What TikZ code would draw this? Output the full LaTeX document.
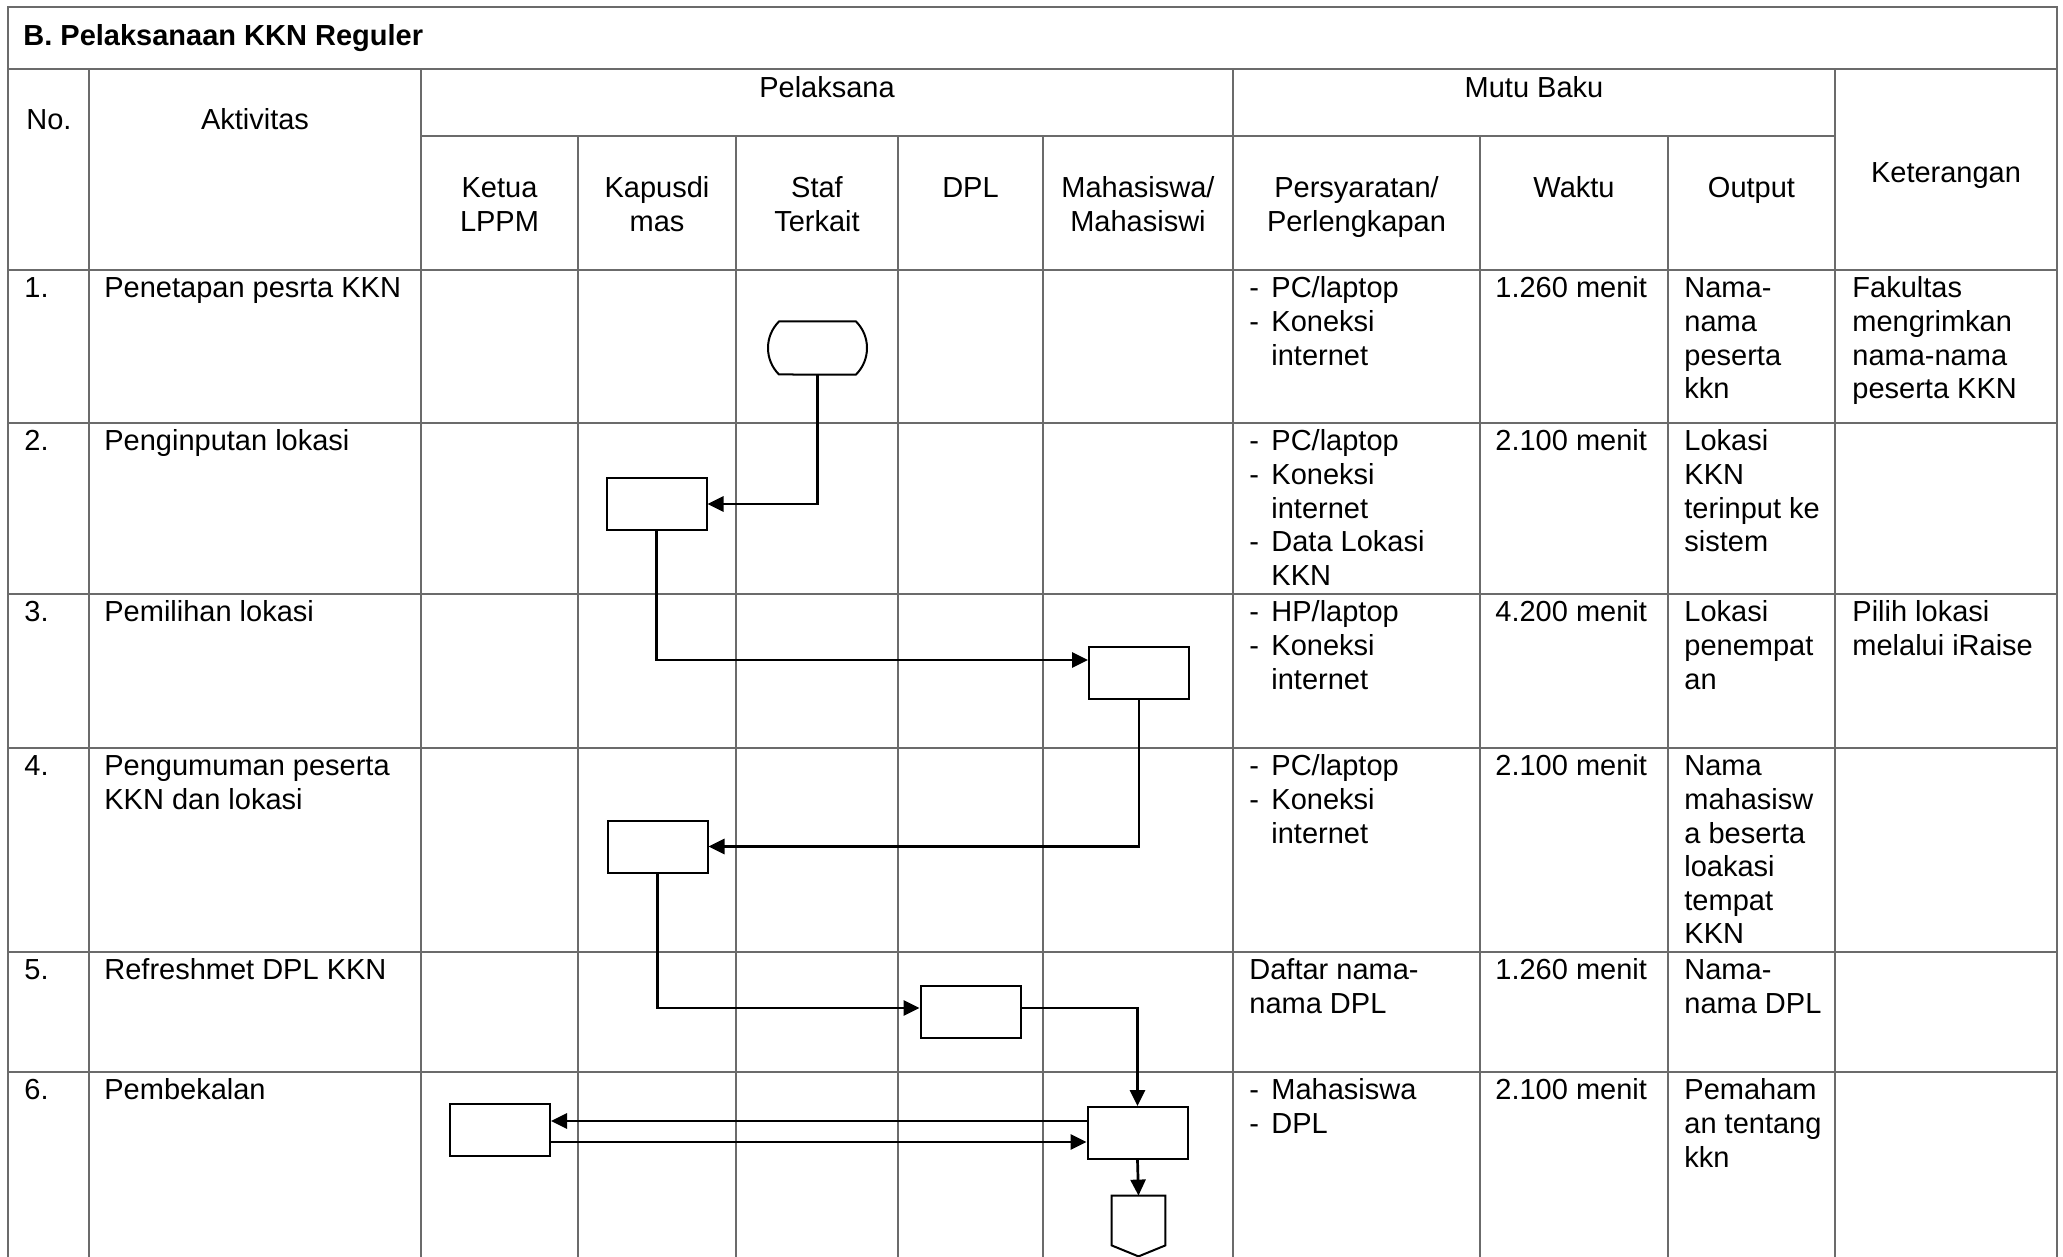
\documentclass[tikz,border=0pt]{standalone}
\usepackage{fontspec}
\setmainfont{Liberation Sans}
\usetikzlibrary{arrows.meta,shapes.misc}
\newcommand\fsz{\fontsize{14.5pt}{16.8pt}\selectfont}
\begin{document}
\begin{tikzpicture}[x=0.5pt,y=-0.5pt,
  tl/.style={line width=0.8pt, draw=black!58},
  txt/.style={anchor=north west, inner sep=0pt, align=left, font=\fsz},
  hdr/.style={anchor=north, inner sep=0pt, align=center, font=\fsz},
  flowbox/.style={draw, line width=1pt, minimum width=50pt, minimum height=26pt, inner sep=0pt, fill=white},
  flow/.style={line width=1.35pt, -{Triangle[length=8pt,width=7.5pt]}},
]
\useasboundingbox (0,0) rectangle (2063,1257);
% ---------- table grid ----------
\draw[tl] (8,1257) -- (8,7) -- (2057,7) -- (2057,1257);
\draw[tl] (8,69) -- (2057,69);
\draw[tl] (421,136) -- (1835,136);
\foreach \yy in {270,423,594,748,952,1072} \draw[tl] (8,\yy) -- (2057,\yy);
\foreach \xx in {89,421,1233,1835} \draw[tl] (\xx,69) -- (\xx,1257);
\foreach \xx in {578,736,898,1043,1480,1668} \draw[tl] (\xx,136) -- (\xx,1257);
% ---------- title & headers ----------
\node[txt, font=\fsz\bfseries] (title) at (23,21.5) {\strut B. Pelaksanaan KKN Reguler};
\node[hdr] (hNo) at (49,105.5) {\strut No.};
\node[hdr] (hAkt) at (255,105.5) {\strut Aktivitas};
\node[hdr] (hPel) at (827,73.5) {\strut Pelaksana};
\node[hdr] (hMutu) at (1534,73.5) {\strut Mutu Baku};
\node[hdr] (hKet) at (1946,158.5) {\strut Keterangan};
\node[hdr] (hKetua) at (499.5,173.5) {\strut Ketua\\LPPM};
\node[hdr] (hKap) at (657,173.5) {\strut Kapusdi\\mas};
\node[hdr] (hStaf) at (817,173.5) {\strut Staf\\Terkait};
\node[hdr] (hDPL) at (970.5,173.5) {\strut DPL};
\node[hdr] (hMhs) at (1138,173.5) {\strut Mahasiswa/\\Mahasiswi};
\node[hdr] (hPer) at (1356.5,173.5) {\strut Persyaratan/\\Perlengkapan};
\node[hdr] (hWak) at (1574,173.5) {\strut Waktu};
\node[hdr] (hOut) at (1751.5,173.5) {\strut Output};
% ---------- row 1 ----------
\node[txt] (n1) at (24,274) {\strut 1.};
\node[txt] (a1) at (104,274) {\strut Penetapan pesrta KKN};
\node[txt] (d1) at (1249,274) {\strut -\\\strut -};
\node[txt] (p1) at (1271,274) {\strut PC/laptop\\Koneksi\\internet};
\node[txt] (w1) at (1495,274) {\strut 1.260 menit};
\node[txt] (o1) at (1684,274) {\strut Nama-\\nama\\peserta\\kkn};
\node[txt] (k1) at (1852,274) {\strut Fakultas\\mengrimkan\\nama-nama\\peserta KKN};
% ---------- row 2 ----------
\node[txt] (n2) at (24,427) {\strut 2.};
\node[txt] (a2) at (104,427) {\strut Penginputan lokasi};
\node[txt] (d2) at (1249,427) {\strut -\\\strut -\\\strut\\\strut -};
\node[txt] (p2) at (1271,427) {\strut PC/laptop\\Koneksi\\internet\\Data Lokasi\\KKN};
\node[txt] (w2) at (1495,427) {\strut 2.100 menit};
\node[txt] (o2) at (1684,427) {\strut Lokasi\\KKN\\terinput ke\\sistem};
% ---------- row 3 ----------
\node[txt] (n3) at (24,598) {\strut 3.};
\node[txt] (a3) at (104,598) {\strut Pemilihan lokasi};
\node[txt] (d3) at (1249,598) {\strut -\\\strut -};
\node[txt] (p3) at (1271,598) {\strut HP/laptop\\Koneksi\\internet};
\node[txt] (w3) at (1495,598) {\strut 4.200 menit};
\node[txt] (o3) at (1684,598) {\strut Lokasi\\penempat\\an};
\node[txt] (k3) at (1852,598) {\strut Pilih lokasi\\melalui iRaise};
% ---------- row 4 ----------
\node[txt] (n4) at (24,752) {\strut 4.};
\node[txt] (a4) at (104,752) {\strut Pengumuman peserta\\KKN dan lokasi};
\node[txt] (d4) at (1249,752) {\strut -\\\strut -};
\node[txt] (p4) at (1271,752) {\strut PC/laptop\\Koneksi\\internet};
\node[txt] (w4) at (1495,752) {\strut 2.100 menit};
\node[txt] (o4) at (1684,752) {\strut Nama\\mahasisw\\a beserta\\loakasi\\tempat\\KKN};
% ---------- row 5 ----------
\node[txt] (n5) at (24,956) {\strut 5.};
\node[txt] (a5) at (104,956) {\strut Refreshmet DPL KKN};
\node[txt] (p5) at (1249,956) {\strut Daftar nama-\\nama DPL};
\node[txt] (w5) at (1495,956) {\strut 1.260 menit};
\node[txt] (o5) at (1684,956) {\strut Nama-\\nama DPL};
% ---------- row 6 ----------
\node[txt] (n6) at (24,1076) {\strut 6.};
\node[txt] (a6) at (104,1076) {\strut Pembekalan};
\node[txt] (d6) at (1249,1076) {\strut -\\\strut -};
\node[txt] (p6) at (1271,1076) {\strut Mahasiswa\\DPL};
\node[txt] (w6) at (1495,1076) {\strut 2.100 menit};
\node[txt] (o6) at (1684,1076) {\strut Pemaham\\an tentang\\kkn};
% ---------- flow shapes ----------
\node[rounded rectangle, rounded rectangle arc length=90, draw, line width=1pt,
      minimum width=49.5pt, minimum height=26.5pt, inner sep=0pt] (t1) at (817.5,348) {};
\node[flowbox] (b2) at (656.5,504) {};
\node[flowbox] (b3) at (1139,673) {};
\node[flowbox] (b4) at (657.5,846.5) {};
\node[flowbox] (b5) at (970.5,1012) {};
\node[flowbox] (b6m) at (1137.5,1133) {};
\node[flowbox] (b6k) at (500,1129.5) {};
\node[minimum width=26.5pt, minimum height=30pt, inner sep=0pt] (off) at (1138.5,1226) {};
\draw[line width=1pt] (off.north west) -- (off.north east) -- ([yshift=5.5pt]off.south east)
  -- (off.south) -- ([yshift=5.5pt]off.south west) -- cycle;
% ---------- connectors ----------
\draw[flow] (t1.south) |- (b2.east);
\draw[flow] (b2.south) |- ([yshift=6.5pt]b3.west);
\draw[flow] (b3.south) |- (b4.east);
\draw[flow] (b4.south) |- ([yshift=2pt]b5.west);
\draw[flow] ([yshift=2pt]b5.east) -| (b6m.north);
\draw[flow] ([yshift=6pt]b6m.west) -- ([yshift=6pt]b6m.west -| b6k.east);
\draw[flow] ([yshift=-6.25pt]b6k.east) -- ([yshift=-6.25pt]b6k.east -| b6m.west);
\draw[flow] (b6m.south) -- (off.north);
\end{tikzpicture}
\end{document}
